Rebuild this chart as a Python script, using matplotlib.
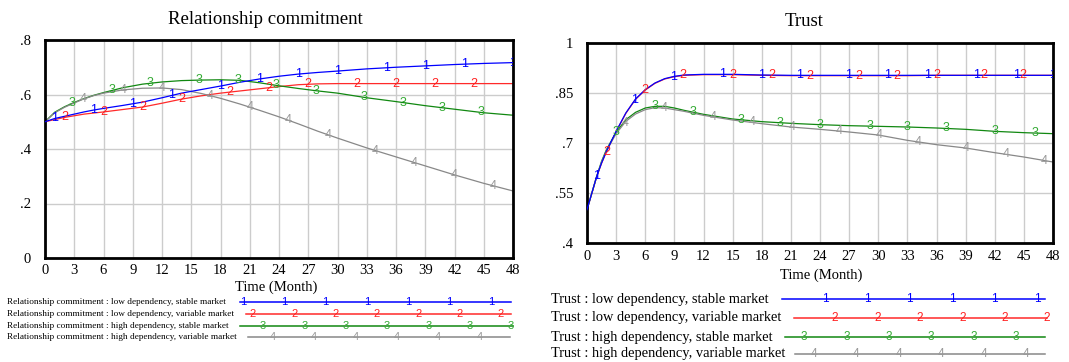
import numpy as np
import matplotlib.pyplot as plt

plt.rcParams['font.family'] = ['Liberation Serif', 'DejaVu Serif']

# ---- data ----
month_ticks = np.arange(0, 49, 3)

rc_t = [0, 1, 2, 3, 4, 5, 6, 8, 10, 12, 14, 16, 18, 20, 22, 24, 26, 28, 30, 33, 36, 39, 42, 45, 48]
rc_low_stable = [0.500, 0.512, 0.520, 0.528, 0.536, 0.543, 0.549, 0.560, 0.572, 0.588, 0.605, 0.618,
                 0.631, 0.645, 0.657, 0.667, 0.675, 0.681, 0.686, 0.694, 0.700, 0.705, 0.710, 0.714, 0.717]
rc_low_variable = [0.500, 0.508, 0.516, 0.522, 0.528, 0.532, 0.536, 0.545, 0.554, 0.568, 0.583, 0.595,
                   0.605, 0.613, 0.621, 0.629, 0.636, 0.639, 0.640, 0.640, 0.640, 0.640, 0.640, 0.640, 0.640]
rc_high_stable = [0.500, 0.535, 0.555, 0.571, 0.585, 0.597, 0.607, 0.625, 0.638, 0.646, 0.651, 0.653,
                  0.654, 0.652, 0.643, 0.632, 0.622, 0.613, 0.605, 0.588, 0.574, 0.559, 0.546, 0.533, 0.524]
rc_high_variable = [0.500, 0.533, 0.553, 0.569, 0.584, 0.596, 0.605, 0.617, 0.623, 0.624, 0.618, 0.604,
                    0.586, 0.565, 0.542, 0.518, 0.492, 0.465, 0.440, 0.404, 0.371, 0.338, 0.305, 0.274, 0.246]

tr_t = [0, 0.5, 1, 1.5, 2, 3, 4, 5, 6, 7, 8, 9, 10, 12, 15, 18, 21, 24, 27, 30, 33, 36, 39, 42, 45, 48]
tr_low_stable = [0.500, 0.550, 0.600, 0.640, 0.675, 0.735, 0.790, 0.832, 0.860, 0.880, 0.893, 0.900, 0.904,
                 0.906, 0.906, 0.904, 0.903, 0.903, 0.903, 0.903, 0.903, 0.903, 0.903, 0.903, 0.903, 0.903]
tr_low_variable = [0.500, 0.549, 0.599, 0.639, 0.674, 0.734, 0.789, 0.831, 0.859, 0.879, 0.892, 0.899, 0.903,
                   0.905, 0.905, 0.903, 0.902, 0.902, 0.902, 0.902, 0.902, 0.903, 0.903, 0.903, 0.903, 0.903]
tr_high_stable = [0.500, 0.550, 0.600, 0.645, 0.680, 0.732, 0.770, 0.792, 0.805, 0.810, 0.810, 0.805, 0.798,
                  0.786, 0.772, 0.764, 0.759, 0.755, 0.752, 0.750, 0.748, 0.745, 0.741, 0.735, 0.731, 0.728]
tr_high_variable = [0.500, 0.550, 0.600, 0.643, 0.677, 0.728, 0.765, 0.787, 0.800, 0.806, 0.805, 0.800, 0.795,
                    0.783, 0.769, 0.758, 0.748, 0.741, 0.733, 0.724, 0.708, 0.695, 0.685, 0.671, 0.658, 0.643]

rc_ticks = [0, 0.2, 0.4, 0.6, 0.8]
rc_tick_labels = ['0', '.2', '.4', '.6', '.8']
tr_ticks = [0.4, 0.55, 0.7, 0.85, 1.0]
tr_tick_labels = ['.4', '.55', '.7', '.85', '1']

scenarios = ['low dependency, stable market', 'low dependency, variable market',
             'high dependency, stable market', 'high dependency, variable market']
rc_labels = ['Relationship commitment : ' + s for s in scenarios]
tr_labels = ['Trust : ' + s for s in scenarios]

# where the number markers sit along each curve (months)
rc_marks = [[1, 5, 9, 13, 18, 22, 26, 30, 35, 39, 43, 48],
            [2, 6, 10, 14, 19, 23, 27, 32, 36, 40, 44],
            [2.8, 6.9, 10.8, 15.8, 19.8, 23.7, 27.8, 32.7, 36.7, 40.7, 44.7],
            [3.9, 8, 12, 16.9, 21, 24.9, 29, 33.9, 37.9, 42, 46]]
tr_marks = [[1, 4.9, 8.9, 14, 18, 21.9, 26.9, 31, 35.1, 40.1, 44.2, 48],
            [2, 6, 9.9, 15, 19, 23, 28, 31.9, 36, 40.9, 44.9],
            [3, 7, 10.9, 15.9, 19.9, 24, 29.1, 33, 37, 42, 46.1],
            [3.9, 8, 13, 17, 21.1, 26, 30.1, 34.1, 39.1, 43.2, 47.1]]

line_colors = ['#0000ff', '#ff2a2a', '#118811', '#888888']
mark_colors = ['#0000ff', '#ff2020', '#33aa33', '#999999']
digits = ['1', '2', '3', '4']
SANS = ['Liberation Sans', 'DejaVu Sans']

W, H = 1069, 362
fig = plt.figure(figsize=(W / 100, H / 100), dpi=100)
ax1 = fig.add_axes([45 / W, 1 - 258 / H, 468 / W, 218 / H])
ax2 = fig.add_axes([587 / W, 1 - 243 / H, 466 / W, 200 / H])


def style(ax, ylim, yt, ytl, xpad):
    ax.set_xlim(0, 48)
    ax.set_ylim(*ylim)
    ax.set_xticks(month_ticks)
    ax.set_yticks(yt)
    ax.set_yticklabels(ytl)
    ax.grid(True, color='#cccccc', lw=1)
    ax.set_axisbelow(True)
    for s in ax.spines.values():
        s.set_linewidth(2)
        s.set_color('black')
    ax.tick_params(axis='both', length=0, labelsize=10.5)
    ax.tick_params(axis='x', pad=xpad)
    ax.tick_params(axis='y', pad=10)


def draw(ax, t, series, marks, order):
    for i in order:
        ax.plot(t, series[i], color=line_colors[i], lw=0.9, zorder=2 + (i == 0))
    for vals, mk, mc, d in zip(series, marks, mark_colors, digits):
        for m in mk:
            ax.text(m, np.interp(m, t, vals), d, color=mc, fontsize=9, family=SANS,
                    ha='center', va='center', clip_on=True, zorder=4)


style(ax1, (0, 0.8), rc_ticks, rc_tick_labels, 4)
style(ax2, (0.4, 1.0), tr_ticks, tr_tick_labels, 5)
draw(ax1, rc_t, [rc_low_stable, rc_low_variable, rc_high_stable, rc_high_variable], rc_marks, [0, 1, 2, 3])
draw(ax2, tr_t, [tr_low_stable, tr_low_variable, tr_high_stable, tr_high_variable], tr_marks, [1, 0, 2, 3])

# overlay in pixel coordinates for titles, axis labels and the legends
lg = fig.add_axes([0, 0, 1, 1])
lg.set_xlim(0, W)
lg.set_ylim(H, 0)
lg.axis('off')

lg.text(265, 19, 'Relationship commitment', fontsize=13.5, ha='center', va='center')
lg.text(804, 22, 'Trust', fontsize=13.5, ha='center', va='center')
lg.text(276, 287, 'Time (Month)', fontsize=10.5, ha='center', va='center')
lg.text(821, 275, 'Time (Month)', fontsize=10.5, ha='center', va='center')

# left legend
rows = [302, 314, 326, 337]
spans = [(240, 511), (246, 511), (240, 513), (248, 510)]
starts = [243, 253, 263, 273]
for i in range(4):
    lg.text(7, rows[i], rc_labels[i], fontsize=6.7, ha='left', va='center')
    lg.plot(spans[i], [rows[i], rows[i]], color=line_colors[i], lw=1.1)
    for k in range(7):
        x = starts[i] + 41.3 * k
        if x <= spans[i][1] + 2:
            lg.text(x, rows[i], digits[i], color=mark_colors[i], fontsize=8, family=SANS,
                    ha='center', va='center')

# right legend
rows = [299, 318, 337, 354]
spans = [(782, 1045), (794, 1047), (785, 1045), (795, 1045)]
starts = [825, 835, 804, 814]
for i in range(4):
    lg.text(551, rows[i], tr_labels[i], fontsize=10.4, ha='left', va='center')
    lg.plot(spans[i], [rows[i], rows[i]], color=line_colors[i], lw=1.1)
    for k in range(6):
        x = starts[i] + 42.4 * k
        lg.text(x, rows[i], digits[i], color=mark_colors[i], fontsize=8.5, family=SANS,
                ha='center', va='center')

fig.savefig('out.png', dpi=100)
